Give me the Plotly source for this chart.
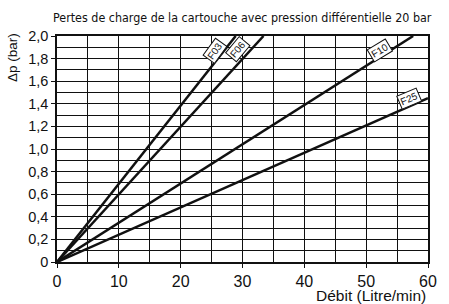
import plotly.graph_objects as go

# Data (lines through origin; end points where they leave the chart)
series_names = ["F03", "F06", "F10", "F25"]
flow_end = [28.9, 33.4, 57.6, 60.0]        # Litre/min
dp_end = [2.0, 2.0, 2.0, 1.45]             # bar
label_x = [25.6, 29.2, 52.2, 57.0]
label_y = [1.87, 1.88, 1.87, 1.45]
label_angle = [-54, -50, -31, -23]

x_ticks = [0, 10, 20, 30, 40, 50, 60]
y_ticks = [0, 0.2, 0.4, 0.6, 0.8, 1.0, 1.2, 1.4, 1.6, 1.8, 2.0]
y_ticktext = ["0", "0,2", "0,4", "0,6", "0,8", "1,0", "1,2", "1,4", "1,6", "1,8", "2,0"]

SANS = "'Liberation Sans', Arial, sans-serif"
NARROW = "'Liberation Sans Narrow', 'Arial Narrow', 'DejaVu Sans Condensed', 'Liberation Sans', sans-serif"

fig = go.Figure()
for name, xe, ye in zip(series_names, flow_end, dp_end):
    fig.add_trace(go.Scatter(x=[0, xe], y=[0, ye], mode="lines", name=name,
                             line=dict(color="#111111", width=2.5), showlegend=False))

for name, lx, ly, ang in zip(series_names, label_x, label_y, label_angle):
    fig.add_annotation(x=lx, y=ly, text=name, showarrow=False, textangle=ang,
                       font=dict(family=SANS, size=10, color="#111"),
                       bgcolor="white", bordercolor="#111", borderwidth=1, borderpad=1)

fig.add_annotation(xref="paper", yref="paper", x=0.5, y=1.0, yshift=19,
                   text="Pertes de charge de la cartouche avec pression différentielle 20 bar",
                   showarrow=False, xanchor="center", yanchor="middle",
                   font=dict(family=NARROW, size=12.4, color="#111"))
fig.add_annotation(xref="paper", yref="paper", x=1.0, y=0, yshift=-33, xanchor="right", yanchor="middle",
                   text="Débit (Litre/min)", showarrow=False,
                   font=dict(family=SANS, size=15.5, color="#111"))
fig.add_annotation(xref="paper", yref="paper", x=0, xshift=-45, y=1.0, yshift=-22, textangle=-90,
                   xanchor="center", yanchor="middle",
                   text="Δp (bar)", showarrow=False,
                   font=dict(family=SANS, size=13.5, color="#111"))

axis_common = dict(showline=True, linecolor="#111", linewidth=1.5, mirror=True,
                   showgrid=True, gridcolor="#111", gridwidth=1.4,
                   ticks="outside", ticklen=4, tickcolor="#111", tickwidth=1.2,
                   zeroline=False)

fig.update_xaxes(range=[0, 60], tickvals=x_ticks, ticktext=[str(v) for v in x_ticks],
                 tickfont=dict(family=SANS, size=16, color="#111"),
                 minor=dict(tickvals=list(range(5, 60, 10)), showgrid=True, gridcolor="#111", gridwidth=1.4),
                 **axis_common)
fig.update_yaxes(range=[0, 2.0], tickvals=y_ticks, ticktext=y_ticktext,
                 tickfont=dict(family=SANS, size=14.5, color="#111"),
                 minor=dict(tickvals=[0.1, 0.3, 0.5, 0.7, 0.9, 1.1, 1.3, 1.5, 1.7, 1.9], showgrid=True,
                            gridcolor="#111", gridwidth=1.4),
                 **axis_common)

fig.update_layout(width=449, height=304, margin=dict(l=57, r=13, t=36, b=42),
                  plot_bgcolor="white", paper_bgcolor="white",
                  font=dict(family=SANS, color="#111"))

fig.write_html("out.html", config={"displayModeBar": False},
               post_script="document.body.style.margin='0';")
